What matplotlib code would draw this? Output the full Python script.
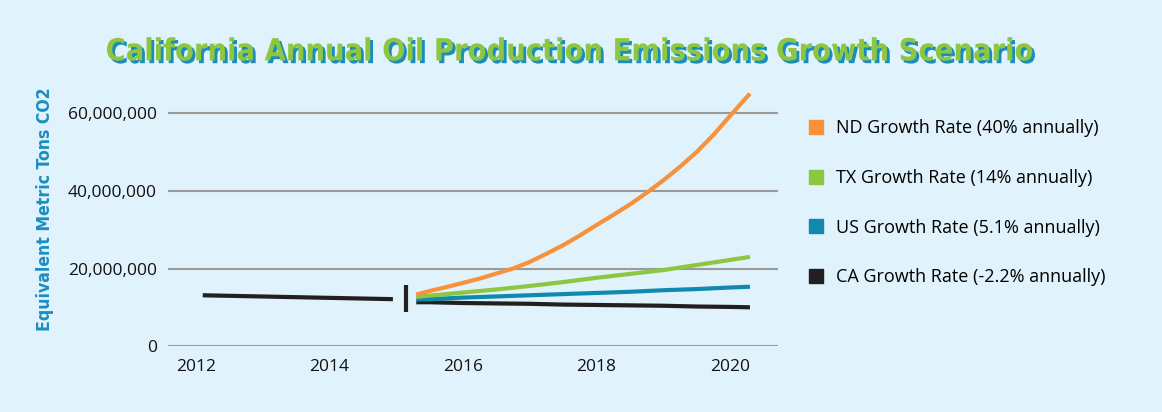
import matplotlib.pyplot as plt
import matplotlib.patheffects as pe
from matplotlib.lines import Line2D
from matplotlib.ticker import FuncFormatter

# historic California emissions (before the break)
hist_years = [2012.1, 2014.95]
hist_ca = [13.1e6, 12.1e6]

# projected scenarios
proj_years = [2015.3, 2015.5, 2016, 2016.5, 2017, 2017.5, 2018, 2018.5, 2019, 2019.5, 2020, 2020.3]
tx = [12.7, 13.0, 13.8, 14.6, 15.5, 16.5, 17.6, 18.6, 19.6, 20.9, 22.2, 23.0]
us = [12.0, 12.1, 12.5, 12.8, 13.1, 13.4, 13.7, 14.0, 14.4, 14.7, 15.1, 15.3]
ca = [11.3, 11.3, 11.1, 11.0, 10.9, 10.7, 10.6, 10.5, 10.4, 10.2, 10.1, 10.0]

nd_years = [2015.3, 2015.5, 2015.75, 2016, 2016.25, 2016.5, 2016.75, 2017, 2017.25, 2017.5,
            2017.75, 2018, 2018.25, 2018.5, 2018.75, 2019, 2019.25, 2019.5, 2019.75, 2020, 2020.3]
nd = [13.3, 14.2, 15.2, 16.3, 17.4, 18.7, 20.0, 21.7, 23.8, 26.0,
      28.5, 31.2, 33.8, 36.5, 39.5, 42.7, 46.2, 50.0, 54.4, 59.3, 65.1]

labels = ['ND Growth Rate (40% annually)', 'TX Growth Rate (14% annually)',
          'US Growth Rate (5.1% annually)', 'CA Growth Rate (-2.2% annually)']
colors = ['#F7923A', '#8DC641', '#0F8AAE', '#221F1F']

break_year = 2015.15
break_span = [8.8e6, 15.7e6]

bg = '#E0F2FB'
plt.rcParams['font.family'] = ['Open Sans', 'DejaVu Sans']

fig = plt.figure(figsize=(11.62, 4.12), dpi=100, facecolor=bg)
ax = fig.add_axes([0.1446, 0.160, 0.5249, 0.626], facecolor=bg)

ax.plot(hist_years, hist_ca, color=colors[3], lw=3, solid_capstyle='butt')
ax.plot([break_year, break_year], break_span, color=colors[3], lw=3, solid_capstyle='butt')
ax.plot(proj_years, [v * 1e6 for v in ca], color=colors[3], lw=3, solid_capstyle='butt')
ax.plot(proj_years, [v * 1e6 for v in us], color=colors[2], lw=3, solid_capstyle='butt')
ax.plot(proj_years, [v * 1e6 for v in tx], color=colors[1], lw=3, solid_capstyle='butt')
ax.plot(nd_years, [v * 1e6 for v in nd], color=colors[0], lw=3, solid_capstyle='butt')

ax.set_xlim(2011.58, 2020.72)
ax.set_ylim(0, 66.5e6)
ax.set_xticks([2012, 2014, 2016, 2018, 2020])
ax.set_yticks([0, 20e6, 40e6, 60e6])
ax.yaxis.set_major_formatter(FuncFormatter(lambda v, p: f'{v:,.0f}'))
ax.tick_params(length=0, labelsize=12.5, colors='#111111', pad=8)
ax.tick_params(axis='x', pad=9)
ax.grid(axis='y', color='#9A9A9A', lw=1.5)
ax.set_axisbelow(True)
for s in ax.spines.values():
    s.set_visible(False)

ax.set_ylabel('Equivalent Metric Tons CO2', color='#1A8DBF', fontsize=12.6,
              fontweight='bold', family='DejaVu Sans', fontstretch='condensed')
ax.yaxis.set_label_coords(-0.187, 0.531)

fig.text(0.488, 0.874, 'California Annual Oil Production Emissions Growth Scenario',
         ha='center', va='center', fontsize=22, fontweight='bold', color='#8DC641',
         family='DejaVu Sans', fontstretch='condensed',
         path_effects=[pe.withSimplePatchShadow(offset=(2, -2), shadow_rgbFace='#1A8DBF', alpha=1)])

handles = [Line2D([], [], ls='', marker='s', markersize=10, color=c) for c in colors]
fig.legend(handles, labels, loc='upper left', bbox_to_anchor=(0.685, 0.732), frameon=False,
           fontsize=13, labelspacing=1.75, handletextpad=0.5, handlelength=1.2, borderpad=0)

fig.savefig('out.png', dpi=100, facecolor=bg)
